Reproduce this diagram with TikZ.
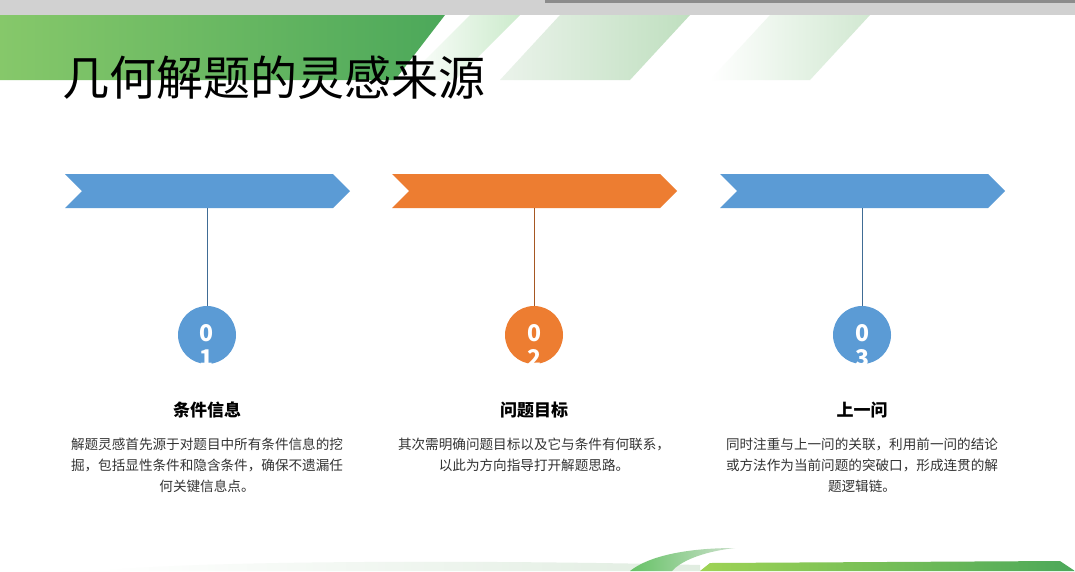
\documentclass[tikz,border=0pt]{standalone}
\usepackage{fontspec}
\setmainfont{Noto Sans CJK SC}
\definecolor{bl}{HTML}{5B9BD5}
\definecolor{orr}{HTML}{ED7D31}
\definecolor{gd}{HTML}{4CA85A}
\definecolor{gl}{HTML}{86C86A}
\begin{document}
\begin{tikzpicture}[x=1pt,y=-1pt,
  num/.style={circle,fill=#1,minimum size=58pt,inner sep=0pt},
  ttl/.style={font=\fontsize{17}{20}\selectfont\bfseries},
  body/.style={font=\fontsize{13.6}{21}\selectfont,text=black!80,align=center}]
\useasboundingbox (0,0) rectangle (1075,571);
\fill[white] (0,0) rectangle (1075,571);
% top bar
\fill[black!18] (0,0) rectangle (1075,15);
\fill[black!45] (545,0) rectangle (1075,3);
% green band
\shade[left color=green!40!black!8,right color=green!50!black!25] (560,15) -- (690,15) -- (630,80) -- (500,80) -- cycle;
\shade[left color=white,right color=green!50!black!18] (770,15) -- (870,15) -- (810,80) -- (710,80) -- cycle;
\shade[left color=white,right color=green!60!black!20] (470,15) -- (520,15) -- (455,80) -- (405,80) -- cycle;
\shade[left color=gl,right color=gd] (0,15) -- (445,15) -- (395,80) -- (0,80) -- cycle;
% bottom decoration
\shade[left color=white,right color=green!40!black!12] (100,571) .. controls (200,560) and (500,560) .. (700,565) -- (700,571) -- cycle;
\shade[left color=green!60!black!60,right color=green!40!black!20] (630,571) .. controls (650,555) and (690,548) .. (735,548) .. controls (700,552) and (680,562) .. (672,571) -- cycle;
\shade[left color=gl!80!yellow,right color=gd] (700,571) -- (710,563) -- (1060,561) -- (1075,571) -- cycle;
% title
\node[anchor=west,font=\fontsize{47}{52}\selectfont,inner sep=0pt] (title) at (62,78) {几何解题的灵感来源};
% arrows
\foreach \i/\x/\c/\n/\t in {1/65/bl/1/条件信息,2/392/orr/2/问题目标,3/720/bl/3/上一问}{
  \fill[\c] (\x,174) -- (\x+268,174) -- (\x+285,191) -- (\x+268,208) -- (\x,208) -- (\x+17,191) -- cycle;
  \coordinate (a\i) at (\x+142,208);
  \node[num=\c] (c\i) at (\x+142,335) {};
  \draw[\c!70!black,thin] (a\i) -- (c\i.north);
  \begin{scope}
    \clip (c\i.center) circle (29pt);
    \node[text=white,font=\fontsize{23}{24}\selectfont\bfseries] at ([yshift=2pt]c\i.center) {0};
    \node[text=white,font=\fontsize{23}{24}\selectfont\bfseries] at ([yshift=-23pt]c\i.center) {\n};
  \end{scope}
  \node[ttl] (t\i) at (\x+142,410) {\t};
}
\node[body,anchor=north] (b1) at (207,434) {解题灵感首先源于对题目中所有条件信息的挖\\掘，包括显性条件和隐含条件，确保不遗漏任\\何关键信息点。};
\node[body,anchor=north] (b2) at (534,434) {其次需明确问题目标以及它与条件有何联系，\\以此为方向指导打开解题思路。};
\node[body,anchor=north] (b3) at (862,434) {同时注重与上一问的关联，利用前一问的结论\\或方法作为当前问题的突破口，形成连贯的解\\题逻辑链。};
\end{tikzpicture}
\end{document}
